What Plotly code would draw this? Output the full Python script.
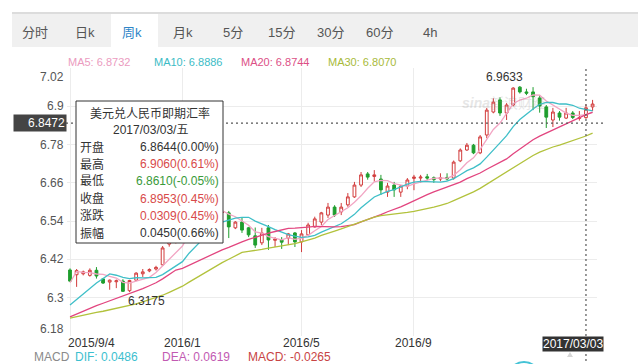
import pandas as pd
import plotly.graph_objects as go

# ---------------- data (weekly USD/CNY spot) ----------------
start_date = "2015-09-04"
open_ = [6.387, 6.372, 6.375, 6.370, 6.386, 6.359, 6.349, 6.350, 6.352, 6.322,
         6.355, 6.375, 6.384, 6.390, 6.403, 6.468, 6.478, 6.487, 6.494, 6.586,
         6.579, 6.577, 6.575, 6.567, 6.566, 6.519, 6.537, 6.519, 6.494, 6.472,
         6.519, 6.480, 6.482, 6.487, 6.503, 6.475, 6.497, 6.522, 6.537, 6.559,
         6.584, 6.569, 6.591, 6.616, 6.653, 6.688, 6.680, 6.672, 6.631, 6.653,
         6.631, 6.650, 6.674, 6.675, 6.679, 6.676, 6.672, 6.677, 6.675, 6.729,
         6.763, 6.778, 6.754, 6.810, 6.882, 6.920, 6.879, 6.904, 6.960, 6.945,
         6.945, 6.926, 6.898, 6.857, 6.879, 6.863, 6.879, 6.862, 6.8644, 6.898]
high = [6.392, 6.390, 6.385, 6.392, 6.396, 6.362, 6.357, 6.357, 6.358, 6.356,
        6.380, 6.390, 6.392, 6.400, 6.462, 6.485, 6.492, 6.498, 6.596, 6.592,
        6.590, 6.585, 6.580, 6.575, 6.572, 6.540, 6.550, 6.522, 6.520, 6.519,
        6.528, 6.490, 6.490, 6.503, 6.506, 6.512, 6.535, 6.554, 6.569, 6.597,
        6.590, 6.597, 6.628, 6.663, 6.694, 6.694, 6.700, 6.685, 6.660, 6.663,
        6.653, 6.675, 6.685, 6.685, 6.688, 6.680, 6.690, 6.690, 6.730, 6.768,
        6.785, 6.782, 6.810, 6.895, 6.925, 6.928, 6.910, 6.960, 6.9633, 6.955,
        6.960, 6.935, 6.904, 6.895, 6.885, 6.895, 6.885, 6.885, 6.9060, 6.920]
low = [6.350, 6.334, 6.370, 6.366, 6.360, 6.343, 6.325, 6.330, 6.318, 6.3175,
       6.352, 6.365, 6.380, 6.385, 6.400, 6.460, 6.470, 6.480, 6.490, 6.570,
       6.570, 6.565, 6.560, 6.560, 6.487, 6.515, 6.503, 6.490, 6.456, 6.465,
       6.450, 6.459, 6.453, 6.465, 6.459, 6.443, 6.495, 6.520, 6.528, 6.550,
       6.553, 6.559, 6.585, 6.613, 6.647, 6.670, 6.664, 6.622, 6.616, 6.616,
       6.616, 6.640, 6.637, 6.660, 6.668, 6.660, 6.665, 6.667, 6.670, 6.725,
       6.760, 6.750, 6.750, 6.800, 6.878, 6.870, 6.857, 6.900, 6.940, 6.935,
       6.888, 6.880, 6.832, 6.835, 6.855, 6.860, 6.860, 6.855, 6.8610, 6.885]
close = [6.352, 6.385, 6.381, 6.386, 6.368, 6.346, 6.355, 6.353, 6.320, 6.354,
         6.377, 6.381, 6.388, 6.395, 6.456, 6.478, 6.487, 6.494, 6.586, 6.579,
         6.577, 6.575, 6.567, 6.568, 6.522, 6.537, 6.512, 6.497, 6.465, 6.503,
         6.481, 6.484, 6.474, 6.500, 6.475, 6.500, 6.528, 6.547, 6.566, 6.584,
         6.559, 6.584, 6.616, 6.653, 6.685, 6.678, 6.685, 6.638, 6.650, 6.638,
         6.650, 6.669, 6.678, 6.678, 6.675, 6.670, 6.676, 6.672, 6.725, 6.763,
         6.778, 6.754, 6.804, 6.888, 6.913, 6.879, 6.904, 6.957, 6.945, 6.941,
         6.930, 6.901, 6.866, 6.882, 6.866, 6.879, 6.865, 6.8644, 6.8953, 6.907]
# weekly closes before the visible window (needed by the moving averages)
prior_closes = [6.240, 6.245, 6.250, 6.248, 6.236, 6.220, 6.215, 6.205, 6.210, 6.211,
                6.203, 6.201, 6.203, 6.204, 6.202, 6.203, 6.205, 6.204, 6.203, 6.202,
                6.206, 6.207, 6.208, 6.210, 6.205, 6.207, 6.397, 6.388, 6.390]

ma_periods = [5, 10, 20, 30]
ma_names = ["MA5", "MA10", "MA20", "MA30"]
ma_legend_values = ["6.8732", "6.8886", "6.8744", "6.8070"]

y_ticks = [6.18, 6.30, 6.42, 6.54, 6.66, 6.78, 6.90, 7.02]
x_tick_dates = ["2015-09-04", "2016-01-01", "2016-05-06", "2016-09-02"]
x_tick_labels = ["2015/9/4", "2016/1", "2016/5", "2016/9"]

tabs = ["分时", "日k", "周k", "月k", "5分", "15分", "30分", "60分", "4h"]
selected_tab = "周k"

cross_date = "2017-03-03"
cross_price = 6.8472
max_label = 6.9633
min_label = 6.3175

tip_title = "美元兑人民币即期汇率"
tip_date = "2017/03/03/五"
tip_rows = [("开盘", "6.8644(0.00%)", "#333333"),
            ("最高", "6.9060(0.61%)", "#d84a4a"),
            ("最低", "6.8610(-0.05%)", "#3a9a3a"),
            ("收盘", "6.8953(0.45%)", "#d84a4a"),
            ("涨跌", "0.0309(0.45%)", "#d84a4a"),
            ("振幅", "0.0450(0.66%)", "#333333")]

macd_texts = [("MACD", "#8a8a8a"), ("DIF: 0.0486", "#3cc0cf"),
              ("DEA: 0.0619", "#c25ab2"), ("MACD: -0.0265", "#c84444")]

# ---------------- styles ----------------
FONT = "Liberation Sans, Arial, Noto Sans CJK SC, sans-serif"
RED = "#d23c3c"
GREEN = "#1f9e2e"
MA_LINE_COLORS = ["#f2a5c3", "#3fbfc8", "#e2457f", "#b2c23c"]
MA_TEXT_COLORS = ["#eb9bc0", "#3cbcc6", "#dc4f86", "#a8ba3a"]

L, T, W, H = 67, 68, 530, 268  # plot area in pixels


def px(x):
    return (x - L) / W


def py(y):
    return (T + H - y) / H


dates = pd.date_range(start_date, periods=len(close), freq="7D")
full = pd.Series(prior_closes + close)
mas = [full.rolling(n).mean().iloc[len(prior_closes):].tolist() for n in ma_periods]

fig = go.Figure()
fig.add_trace(go.Candlestick(
    x=dates, open=open_, high=high, low=low, close=close,
    increasing=dict(line=dict(color=RED, width=1), fillcolor="white"),
    decreasing=dict(line=dict(color=GREEN, width=1), fillcolor=GREEN),
    whiskerwidth=0, showlegend=False, hoverinfo="skip"))
for ma, col in zip(mas, MA_LINE_COLORS):
    fig.add_trace(go.Scatter(x=dates, y=ma, mode="lines",
                             line=dict(color=col, width=1.3),
                             showlegend=False, hoverinfo="skip"))

d0 = pd.Timestamp(start_date)
x_range = [d0 - pd.Timedelta(days=7 * 0.4535), d0 + pd.Timedelta(days=7 * 79.667)]

shapes = []
annotations = []

# tab bar
shapes.append(dict(type="rect", xref="paper", yref="paper", x0=px(12), x1=px(645),
                   y0=py(47), y1=py(14), fillcolor="#f0f0f0", line=dict(width=0), layer="above"))
shapes.append(dict(type="rect", xref="paper", yref="paper", x0=px(111), x1=px(158),
                   y0=py(47), y1=py(14), fillcolor="#ffffff", line=dict(width=0), layer="above"))
shapes.append(dict(type="line", xref="paper", yref="paper", x0=px(12), x1=px(645),
                   y0=py(13), y1=py(13), line=dict(color="#dcdcdc", width=2), layer="above"))
tab_centers = [35, 85, 132, 183, 233, 281, 330, 379, 430]
for t, cx in zip(tabs, tab_centers):
    annotations.append(dict(xref="paper", yref="paper", x=px(cx), y=py(32), text=t,
                            showarrow=False, xanchor="center", yanchor="middle",
                            font=dict(size=13, family=FONT,
                                      color="#2f86c8" if t == selected_tab else "#555555")))

# MA legend row
for name, val, col, lx in zip(ma_names, ma_legend_values, MA_TEXT_COLORS, [66, 152, 239, 326]):
    annotations.append(dict(xref="paper", yref="paper", x=px(lx), y=py(62),
                            text=f"{name}: {val}", showarrow=False, xanchor="left",
                            yanchor="middle", font=dict(size=11, family=FONT, color=col)))

# y tick labels
for v in y_ticks:
    shift = -9 if v == y_ticks[-1] else (7 if v == y_ticks[0] else 0)
    annotations.append(dict(xref="paper", yref="y", x=px(66), y=v, text=f"{v:g}",
                            showarrow=False, xanchor="right", yanchor="middle", yshift=shift,
                            font=dict(size=12, family=FONT, color="#555555")))

# x tick labels
for i, (d, lab) in enumerate(zip(x_tick_dates, x_tick_labels)):
    annotations.append(dict(xref="x", yref="paper", x=d, y=py(343), text=lab,
                            showarrow=False, xanchor="left" if i == 0 else "center",
                            xshift=-3 if i == 0 else 0, yanchor="middle", borderpad=0,
                            font=dict(size=12, family=FONT, color="#333333")))

# max / min labels
annotations.append(dict(xref="x", yref="y", x=dates[high.index(max_label)], y=max_label,
                        text=f"{max_label:.4f}", showarrow=False, xanchor="right", xshift=5,
                        yanchor="bottom", font=dict(size=12, family=FONT, color="#333333")))
annotations.append(dict(xref="x", yref="y", x=dates[low.index(min_label)], y=min_label,
                        text=f"{min_label:.4f}", showarrow=False, xanchor="left", xshift=-4,
                        yanchor="top", font=dict(size=12, family=FONT, color="#333333")))

# watermark
annotations.append(dict(xref="paper", yref="paper", x=px(504), y=py(93), xanchor="center",
                        text="<i><b>sina</b></i>新浪财经", showarrow=False, opacity=0.2,
                        font=dict(size=14, family=FONT, color="#888888")))

# crosshair
shapes.append(dict(type="line", xref="paper", yref="y", x0=px(66), x1=px(605),
                   y0=cross_price, y1=cross_price,
                   line=dict(color="#555555", width=1.2, dash="2px,3px"), layer="above"))
shapes.append(dict(type="line", xref="x", yref="paper", x0=cross_date, x1=cross_date,
                   y0=py(366), y1=1, line=dict(color="#555555", width=1.2, dash="2px,3px"),
                   layer="above"))
annotations.append(dict(xref="paper", yref="y", x=px(67), y=cross_price,
                        text=f"{cross_price:.4f}", showarrow=False, xanchor="right",
                        yanchor="middle", width=50, align="right", bgcolor="#444444",
                        borderpad=1, font=dict(size=12, family=FONT, color="white")))
annotations.append(dict(xref="x", yref="paper", x=cross_date, y=py(343.5),
                        text=cross_date.replace("-", "/"), showarrow=False, xanchor="right",
                        xshift=18, yanchor="middle", bgcolor="#333333", borderpad=0,
                        font=dict(size=12, family=FONT, color="white")))

# tooltip
shapes.append(dict(type="rect", xref="paper", yref="paper", x0=px(76), x1=px(223),
                   y0=py(243), y1=py(101), fillcolor="white",
                   line=dict(color="#333333", width=1), layer="above"))
annotations.append(dict(xref="paper", yref="paper", x=px(150), y=py(113), text=tip_title,
                        showarrow=False, xanchor="center", yanchor="middle",
                        font=dict(size=12, family=FONT, color="#333333")))
annotations.append(dict(xref="paper", yref="paper", x=px(150), y=py(130), text=tip_date,
                        showarrow=False, xanchor="center", yanchor="middle",
                        font=dict(size=12, family=FONT, color="#333333")))
for k, (lab, val, col) in enumerate(tip_rows):
    yy = py(147 + k * 17.2)
    annotations.append(dict(xref="paper", yref="paper", x=px(78), y=yy, text=lab,
                            showarrow=False, xanchor="left", yanchor="middle",
                            font=dict(size=12, family=FONT, color="#333333")))
    annotations.append(dict(xref="paper", yref="paper", x=px(221), y=yy, text=val,
                            showarrow=False, xanchor="right", yanchor="middle",
                            font=dict(size=12, family=FONT, color=col)))

# MACD row
for (txt, col), lx in zip(macd_texts, [33, 74, 161, 247]):
    annotations.append(dict(xref="paper", yref="paper", x=px(lx), y=py(356.5), text=txt,
                            showarrow=False, xanchor="left", yanchor="middle", borderpad=0,
                            font=dict(size=12, family=FONT, color=col)))
shapes.append(dict(type="circle", xref="paper", yref="paper", x0=px(508), x1=px(540),
                   y0=py(394), y1=py(362), line=dict(color="#45c3d6", width=2), layer="above"))
# faint small arrow icon next to the date label
shapes.append(dict(type="path", xref="paper", yref="paper",
                   path=f"M {px(567)} {py(357)} L {px(573)} {py(357)} L {px(570)} {py(352)} Z",
                   fillcolor="#d6d6d6", line=dict(width=0), layer="above"))

fig.update_layout(
    width=638, height=364,
    margin=dict(l=L, r=638 - L - W, t=T, b=364 - T - H),
    paper_bgcolor="white", plot_bgcolor="white",
    boxgap=0.4,
    xaxis=dict(type="date", range=x_range, tickvals=x_tick_dates, showticklabels=False,
               showgrid=True, gridcolor="#ececec", gridwidth=1, zeroline=False,
               showline=False, ticks="", rangeslider=dict(visible=False), fixedrange=True),
    yaxis=dict(range=[y_ticks[0], y_ticks[-1]], tickvals=y_ticks, showticklabels=False,
               showgrid=True, gridcolor="#ececec", gridwidth=1, zeroline=False,
               showline=False, ticks="", fixedrange=True),
    shapes=shapes, annotations=annotations, showlegend=False,
    font=dict(family=FONT),
)

fig.write_html("out.html", config={"displayModeBar": False},
               post_script="document.body.style.margin='0';document.body.style.overflow='hidden';")
